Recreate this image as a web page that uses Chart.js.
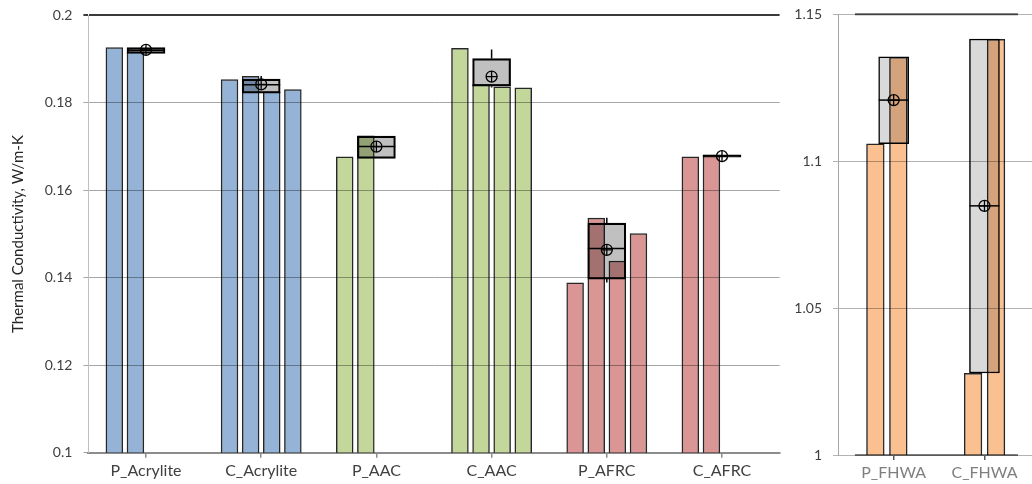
<!DOCTYPE html>
<html>
<head>
<meta charset="utf-8">
<title>Thermal Conductivity</title>
<script src="https://cdn.jsdelivr.net/npm/chart.js@4.4.1/dist/chart.umd.min.js"></script>
<style>
  html, body { margin: 0; padding: 0; background: #fff; overflow: hidden; width: 1032px; height: 484px; }
  canvas { position: absolute; top: 0; }
  #main { left: 0; }
  #sideBars { left: 790px; }
  /* box-plot layer sits over the FHWA bars and darkens where they overlap */
  #sideBoxes { left: 790px; mix-blend-mode: multiply; }
</style>
</head>
<body>
<canvas id="main" width="790" height="484"></canvas>
<canvas id="sideBars" width="250" height="484"></canvas>
<canvas id="sideBoxes" width="250" height="484"></canvas>
<script>
// ---- Main panel: individual specimen results (W/m-K) ----
const categories = ['P_Acrylite', 'C_Acrylite', 'P_AAC', 'C_AAC', 'P_AFRC', 'C_AFRC'];
const run1 = [0.1927, 0.1854, 0.1677, 0.1925, 0.1389, 0.1677];
const run2 = [0.1917, 0.1861, 0.1725, 0.1842, 0.1537, 0.1681];
const run3 = [null, 0.1826, null, 0.1837, 0.1439, null];
const run4 = [null, 0.1831, null, 0.1835, 0.1502, null];

// box-and-whisker summary per material
const boxQ1     = [0.1913, 0.1822, 0.1673, 0.1838, 0.1397, 0.1676];
const boxQ3     = [0.1926, 0.1854, 0.1724, 0.1901, 0.1525, 0.1681];
const boxMedian = [0.1920, 0.1841, 0.1700, 0.1840, 0.1467, 0.1679];
const boxMean   = [0.1921, 0.1842, 0.1700, 0.1860, 0.1464, 0.1678];
const boxMin    = [0.1913, 0.1822, 0.1673, 0.1835, 0.1389, 0.1676];
const boxMax    = [0.1926, 0.1861, 0.1724, 0.1922, 0.1537, 0.1681];

const mainTicks = [0.1, 0.12, 0.14, 0.16, 0.18, 0.2];

// ---- Side panel: FHWA specimens ----
const fhwaCategories = ['P_FHWA', 'C_FHWA'];
const fhwaRun1   = [1.1060, 1.0279];
const fhwaRun2   = [1.1355, 1.1416];
const fhwaQ1     = [1.1060, 1.0279];
const fhwaQ3     = [1.1355, 1.1416];
const fhwaMedian = [1.1208, 1.0848];
const fhwaMean   = [1.1208, 1.0848];

const sideTicks = [1, 1.05, 1.1, 1.15];

// ---- shared look ----
const BLUE = '#95B3D7', GREEN = '#C4D79B', RED = '#D99694', ORANGE = '#FAC090';
const categoryColors = [BLUE, BLUE, GREEN, GREEN, RED, RED];

Chart.defaults.font.family = "Lato, 'Open Sans', sans-serif";
Chart.defaults.animation = false;
Chart.defaults.events = [];
Chart.defaults.plugins.legend.display = false;
Chart.defaults.plugins.tooltip.enabled = false;

const fmt = v => String(+Number(v).toFixed(2));

// keep tick labels from pushing the plot area inwards
function noLabelOverflow(s) {
  s.paddingTop = 0; s.paddingBottom = 0; s.paddingLeft = 0; s.paddingRight = 0;
}

// Overlapping translucent look: flagged datasets are composited with "multiply"
const blendPlugin = {
  id: 'blend',
  beforeDatasetDraw(chart, args) {
    if (chart.data.datasets[args.index].multiply) {
      chart.ctx.save();
      chart.ctx.globalCompositeOperation = 'multiply';
    }
  },
  afterDatasetDraw(chart, args) {
    if (chart.data.datasets[args.index].multiply) chart.ctx.restore();
  }
};

// Median line and whiskers for the box dataset
function boxDetails(datasetIndex, stats) {
  return {
    id: 'boxDetails',
    afterDatasetsDraw(chart) {
      const meta = chart.getDatasetMeta(datasetIndex);
      const y = chart.scales.y;
      const ctx = chart.ctx;
      ctx.save();
      ctx.strokeStyle = '#000';
      ctx.lineWidth = 1.5;
      meta.data.forEach((bar, i) => {
        const half = bar.width / 2;
        const ym = y.getPixelForValue(stats.median[i]);
        ctx.beginPath();
        ctx.moveTo(bar.x - half, ym);
        ctx.lineTo(bar.x + half, ym);
        if (stats.max && stats.max[i] > stats.q3[i]) {
          ctx.moveTo(bar.x, y.getPixelForValue(stats.q3[i]));
          ctx.lineTo(bar.x, y.getPixelForValue(stats.max[i]));
        }
        if (stats.min && stats.min[i] < stats.q1[i]) {
          ctx.moveTo(bar.x, y.getPixelForValue(stats.q1[i]));
          ctx.lineTo(bar.x, y.getPixelForValue(stats.min[i]));
        }
        ctx.stroke();
      });
      ctx.restore();
    }
  };
}

function meanMarkers(data) {
  const base = {
    type: 'line', data, showLine: false, pointRadius: 5.5,
    pointBorderColor: '#000', pointBackgroundColor: 'rgba(0,0,0,0)', pointBorderWidth: 1.3
  };
  return [
    Object.assign({}, base, { pointStyle: 'circle', order: 1 }),
    Object.assign({}, base, { pointStyle: 'cross', order: 0 })
  ];
}

// ================= main chart =================
const runBar = data => ({
  type: 'bar', data,
  backgroundColor: categoryColors,
  borderColor: '#262626', borderWidth: 1.5,
  categoryPercentage: 0.733, barPercentage: 0.83,
  order: 3, multiply: true
});

const mainDatasets = [
  runBar(run1), runBar(run2), runBar(run3), runBar(run4),
  {
    type: 'bar',
    data: categories.map((_, i) => [boxQ1[i], boxQ3[i]]),
    grouped: false, barThickness: 38,
    backgroundColor: '#c0c0c0', borderColor: '#000', borderWidth: 1.5, borderSkipped: false,
    order: 2, multiply: true
  },
  ...meanMarkers(boxMean)
];

new Chart(document.getElementById('main'), {
  data: { labels: categories, datasets: mainDatasets },
  options: {
    responsive: false,
    devicePixelRatio: 1,
    layout: { autoPadding: false, padding: { left: 0, right: 10.4, top: 15.3, bottom: 0 } },
    scales: {
      x: {
        type: 'category', offset: true,
        grid: { offset: false, drawOnChartArea: false, tickLength: 5, color: '#8c8c8c', lineWidth: 1.5 },
        border: { display: true, color: '#8c8c8c', width: 2 },
        ticks: { color: '#404040', font: { size: 16 }, padding: 3, maxRotation: 0, autoSkip: false },
        afterFit(s) { s.height = 31.2; noLabelOverflow(s); }
      },
      y: {
        type: 'linear', min: 0.1, max: 0.2,
        afterBuildTicks(s) { s.ticks = mainTicks.map(v => ({ value: v })); },
        ticks: { callback: fmt, color: '#404040', font: { size: 14 }, padding: 11 },
        grid: {
          tickLength: 5,
          color: c => Math.abs(c.tick.value - 0.2) < 1e-9 ? '#3a3a3a' : '#a6a6a6',
          lineWidth: c => Math.abs(c.tick.value - 0.2) < 1e-9 ? 2 : 1
        },
        border: { display: true, color: '#bfbfbf', width: 1 },
        title: {
          display: true, text: 'Thermal Conductivity, W/m-K', color: '#262626',
          font: { size: 15 }, padding: { top: 9, bottom: 0 }
        },
        afterFit(s) { s.width = 88.4; noLabelOverflow(s); }
      }
    }
  },
  plugins: [blendPlugin, boxDetails(4, { q1: boxQ1, q3: boxQ3, median: boxMedian, min: boxMin, max: boxMax })]
});

// ================= side panel =================
// Both side layers share one plot area: 48px axis strip on the left, 29px label strip below.
const SIDE_PAD = { left: 48, right: 6.6, top: 14.3, bottom: 29 };
const sideY = { type: 'linear', min: 1, max: 1.15 };

// --- layer 1: FHWA specimen bars, y axis and grid ---
const sideBar = data => ({
  type: 'bar', data,
  backgroundColor: ORANGE, borderColor: '#262626', borderWidth: 1.5,
  categoryPercentage: 0.47, barPercentage: 0.8,
  multiply: true
});

new Chart(document.getElementById('sideBars'), {
  data: { labels: fhwaCategories, datasets: [sideBar(fhwaRun1), sideBar(fhwaRun2)] },
  options: {
    responsive: false,
    devicePixelRatio: 1,
    layout: { autoPadding: false, padding: { left: 0, right: SIDE_PAD.right, top: SIDE_PAD.top, bottom: SIDE_PAD.bottom } },
    scales: {
      x: { type: 'category', offset: true, display: false },
      y: Object.assign({}, sideY, {
        afterBuildTicks(s) { s.ticks = sideTicks.map(v => ({ value: v })); },
        ticks: { callback: fmt, color: '#404040', font: { size: 14 }, padding: 11 },
        grid: { tickLength: 5, color: '#b3b3b3', lineWidth: 1 },
        border: { display: true, color: '#a6a6a6', width: 1 },
        afterFit(s) { s.width = SIDE_PAD.left; noLabelOverflow(s); }
      })
    }
  },
  plugins: [blendPlugin]
});

// --- layer 2: box plots, category axis and the outer rules of the box chart ---
const BOX_AXIS_MIN = -0.613, BOX_AXIS_MAX = 1.539;
const BOX_RULE_SPAN = [-0.426, 1.369];

const sideRules = {
  id: 'sideRules',
  beforeDatasetsDraw(chart) {
    const x = chart.scales.x, y = chart.scales.y, ctx = chart.ctx;
    const x0 = x.getPixelForValue(BOX_RULE_SPAN[0]);
    const x1 = x.getPixelForValue(BOX_RULE_SPAN[1]);
    ctx.save();
    ctx.lineWidth = 2;
    ctx.strokeStyle = '#595959';
    ctx.beginPath();
    ctx.moveTo(x0, y.getPixelForValue(1.15)); ctx.lineTo(x1, y.getPixelForValue(1.15));
    ctx.stroke();
    ctx.strokeStyle = '#7f7f7f';
    ctx.beginPath();
    ctx.moveTo(x0, y.getPixelForValue(1)); ctx.lineTo(x1, y.getPixelForValue(1));
    ctx.stroke();
    ctx.restore();
  }
};

const sideBoxDatasets = [
  {
    type: 'bar',
    data: fhwaCategories.map((_, i) => ({ x: i, y: [fhwaQ1[i], fhwaQ3[i]] })),
    grouped: false, barThickness: 30,
    backgroundColor: '#d9d9d9', borderColor: '#000', borderWidth: 1.5, borderSkipped: false,
    order: 2
  },
  ...meanMarkers(fhwaCategories.map((_, i) => ({ x: i, y: fhwaMean[i] })))
];

new Chart(document.getElementById('sideBoxes'), {
  data: { datasets: sideBoxDatasets },
  options: {
    responsive: false,
    devicePixelRatio: 1,
    layout: { autoPadding: false, padding: { left: SIDE_PAD.left, right: SIDE_PAD.right, top: SIDE_PAD.top, bottom: 0 } },
    scales: {
      x: {
        type: 'linear', position: 'bottom', offset: false, min: BOX_AXIS_MIN, max: BOX_AXIS_MAX,
        afterBuildTicks(s) { s.ticks = fhwaCategories.map((_, i) => ({ value: i })); },
        ticks: { callback: v => fhwaCategories[v] ?? '', color: '#7f7f7f', font: { size: 16 }, padding: 3, maxRotation: 0, autoSkip: false },
        grid: { offset: false, drawOnChartArea: false, tickLength: 5, color: '#595959', lineWidth: 1.5 },
        border: { display: false },
        afterFit(s) { s.height = SIDE_PAD.bottom; noLabelOverflow(s); }
      },
      y: Object.assign({}, sideY, { display: false })
    }
  },
  plugins: [sideRules, boxDetails(0, { q1: fhwaQ1, q3: fhwaQ3, median: fhwaMedian })]
});
</script>
</body>
</html>
